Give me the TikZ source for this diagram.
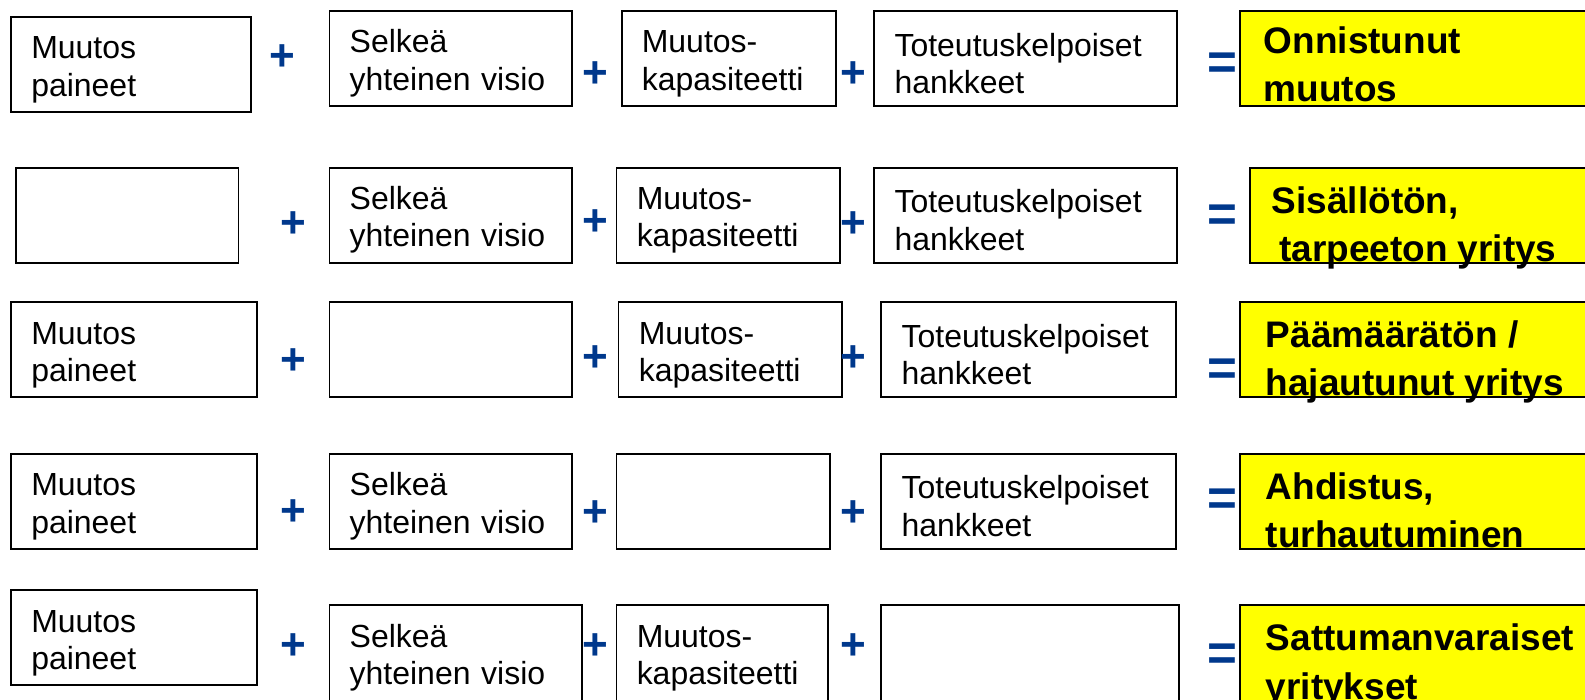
\documentclass[tikz,border=0pt]{standalone}
\usepackage{fontspec}
\setmainfont{Liberation Sans}
\usepackage{tikz}
\usetikzlibrary{positioning}

\definecolor{merkki}{RGB}{0,56,140}
\definecolor{keltainen}{RGB}{255,255,0}
\hyphenpenalty=10000

\begin{document}
\begin{tikzpicture}[x=0.025cm, y=-0.025cm,
    laatikko/.style={draw, line width=1.3pt, anchor=north west,
      minimum height=2.35cm, inner xsep=0.5cm, align=left, text width=#1,
      execute at begin node={\rule{0pt}{23pt}},
      font=\fontsize{22.5}{26.3}\selectfont},
    tulos/.style={draw, line width=1.3pt, fill=keltainen, anchor=north west,
      minimum height=2.35cm, minimum width=10cm},
    tulosteksti/.style={anchor=north west, inner sep=0pt, align=left,
      font=\fontsize{26}{34}\selectfont\bfseries},
    plus/.style={text=merkki, inner sep=0pt, font=\fontsize{31}{31}\selectfont\bfseries},
    yhtsuuri/.style={text=merkki, inner sep=0pt, font=\fontsize{36}{36}\selectfont\bfseries}]
    \useasboundingbox (0,0) rectangle (1568,692);

    % rivi 1
    \node[laatikko=4.925cm] (m1) at (10,16) {Muutos\\paineet};
    \node[laatikko=5cm] (s1) at (325,10) {Selkeä\\yhteinen visio};
    \node[laatikko=4.3cm] (k1) at (614,10) {Muutos-\\kapasiteetti};
    \node[laatikko=6.475cm] (h1) at (864,10) {Toteutuskelpoiset\\hankkeet};
    \node[tulos] (r1) at (1226,10) {};
    \node[tulosteksti] (t1) at (1250,26) {Onnistunut\\muutos};
    \node[plus] (p1a) at (279,57) {+};
    \node[plus] (p1b) at (589,74) {+};
    \node[plus] (p1c) at (844,74) {+};
    \node[yhtsuuri] (q1) at (1209,65) {=};

    % rivi 2
    \node[laatikko=4.5cm] (m2) at (15,165) {};
    \node[laatikko=5cm] (s2) at (325,165) {Selkeä\\yhteinen visio};
    \node[laatikko=4.525cm] (k2) at (609,165) {Muutos-\\kapasiteetti};
    \node[laatikko=6.475cm] (h2) at (864,165) {Toteutuskelpoiset\\hankkeet};
    \node[tulos] (r2) at (1236,165) {};
    \node[tulosteksti] (t2) at (1258,184) {Sisällötön,\\\hspace*{0.18cm}tarpeeton yritys};
    \node[plus] (p2a) at (290,222) {+};
    \node[plus] (p2b) at (589,220) {+};
    \node[plus] (p2c) at (844,222) {+};
    \node[yhtsuuri] (q2) at (1209,216) {=};

    % rivi 3
    \node[laatikko=5.075cm] (m3) at (10,298) {Muutos\\paineet};
    \node[laatikko=5cm] (s3) at (325,298) {};
    \node[laatikko=4.525cm] (k3) at (611,298) {Muutos-\\kapasiteetti};
    \node[laatikko=6.275cm] (h3) at (871,298) {Toteutuskelpoiset\\hankkeet};
    \node[tulos] (r3) at (1226,298) {};
    \node[tulosteksti] (t3) at (1252,317) {Päämäärätön /\\hajautunut yritys};
    \node[plus] (p3a) at (290,358) {+};
    \node[plus] (p3b) at (589,355) {+};
    \node[plus] (p3c) at (844,355) {+};
    \node[yhtsuuri] (q3) at (1209,368) {=};

    % rivi 4
    \node[laatikko=5.075cm] (m4) at (10,448) {Muutos\\paineet};
    \node[laatikko=5cm] (s4) at (325,448) {Selkeä\\yhteinen visio};
    \node[laatikko=4.275cm] (k4) at (609,448) {};
    \node[laatikko=6.275cm] (h4) at (871,448) {Toteutuskelpoiset\\hankkeet};
    \node[tulos] (r4) at (1226,448) {};
    \node[tulosteksti] (t4) at (1252,467) {Ahdistus,\\turhautuminen};
    \node[plus] (p4a) at (290,507) {+};
    \node[plus] (p4b) at (589,508) {+};
    \node[plus] (p4c) at (844,508) {+};
    \node[yhtsuuri] (q4) at (1209,497) {=};

    % rivi 5
    \node[laatikko=5.075cm] (m5) at (10,583) {Muutos\\paineet};
    \node[laatikko=5.25cm] (s5) at (325,598) {Selkeä\\yhteinen visio};
    \node[laatikko=4.225cm] (k5) at (609,598) {Muutos-\\kapasiteetti};
    \node[laatikko=6.35cm] (h5) at (871,598) {};
    \node[tulos] (r5) at (1226,598) {};
    \node[tulosteksti] (t5) at (1252,617) {Sattumanvaraiset\\yritykset};
    \node[plus] (p5a) at (290,640) {+};
    \node[plus] (p5b) at (589,640) {+};
    \node[plus] (p5c) at (844,640) {+};
    \node[yhtsuuri] (q5) at (1209,650) {=};
  \end{tikzpicture}
\end{document}
